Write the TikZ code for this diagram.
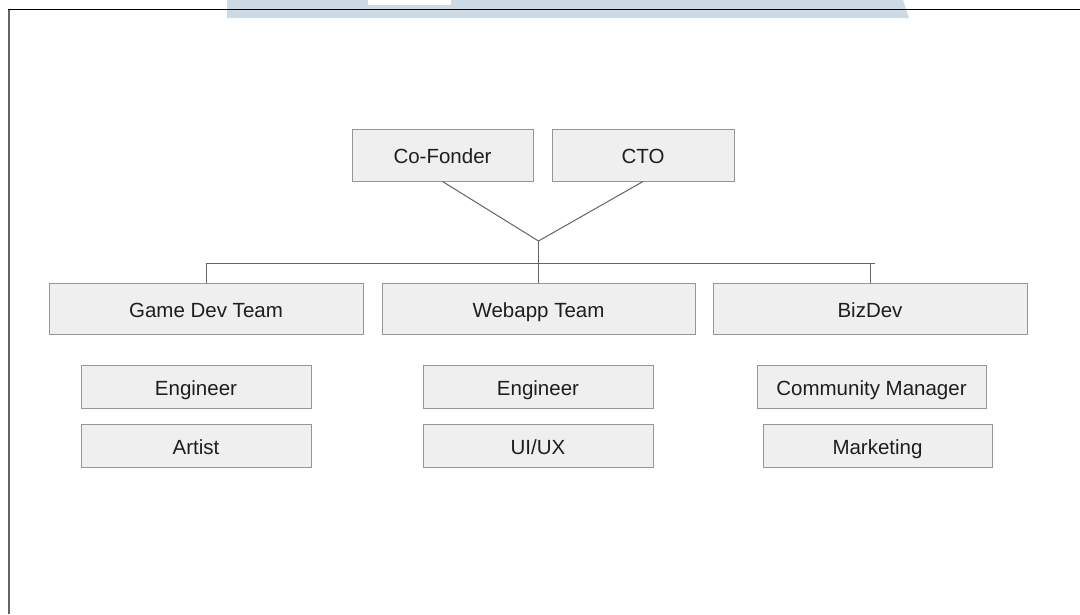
\documentclass[tikz,border=0pt]{standalone}
\usepackage{fontspec}
\setmainfont{Liberation Sans}
\definecolor{boxfill}{RGB}{239,239,239}
\definecolor{boxline}{RGB}{150,150,150}
\definecolor{conn}{RGB}{100,100,100}
\definecolor{bandblue}{RGB}{205,217,227}
\definecolor{txt}{RGB}{30,30,30}
\begin{document}
\begin{tikzpicture}[x=1pt,y=-1pt,
  box/.style={draw=boxline,fill=boxfill,line width=1pt,inner sep=0pt,
    text=txt,font=\fontsize{20.5}{24}\selectfont,text height=17pt,text depth=0pt},
  big/.style={box,minimum width=314pt,minimum height=51pt},
  top/.style={box,minimum width=181pt,minimum height=52pt},
  small/.style={box,minimum width=230pt,minimum height=43pt},
  connector/.style={draw=conn,line width=1pt}]
\useasboundingbox (0,0) rectangle (1080,614);
\fill[white] (0,0) rectangle (1080,614);
% light blue band at top
\fill[bandblue] (227,0) -- (903,0) -- (909,18) -- (227,18) -- cycle;
\fill[white] (368,0) rectangle (451,4.5);
% frame
\draw[black,line width=1.5pt] (8,9.5) -- (1080,9.5);
\draw[conn,line width=2pt] (9,9.5) -- (9,614);
% nodes
\node[top] (cof) at (442.5,155) {Co-Fonder};
\node[top,minimum width=182pt] (cto) at (643,155) {CTO};
\node[big] (game) at (206,308.5) {Game Dev Team};
\node[big,minimum width=313pt] (web) at (538.5,308.5) {Webapp Team};
\node[big] (biz) at (870,308.5) {BizDev};
\node[small] (eng1) at (196,386.5) {Engineer};
\node[small] (art) at (196,445.5) {Artist};
\node[small] (eng2) at (538,386.5) {Engineer};
\node[small] (uiux) at (538,445.5) {UI/UX};
\node[small,minimum width=229pt] (cm) at (871.5,386.5) {Community Manager};
\node[small,minimum width=229pt] (mkt) at (877.5,445.5) {Marketing};
% connectors
\coordinate (j) at (538.5,241);
\coordinate (hr) at (875,263);
\draw[connector] (cof.south) -- (j);
\draw[connector] (cto.south) -- (j);
\draw[connector] (j) -- (web.north);
\draw[connector] (game.north) |- (hr);
\draw[connector] (biz.north) -- (biz.north |- hr);
\end{tikzpicture}
\end{document}
